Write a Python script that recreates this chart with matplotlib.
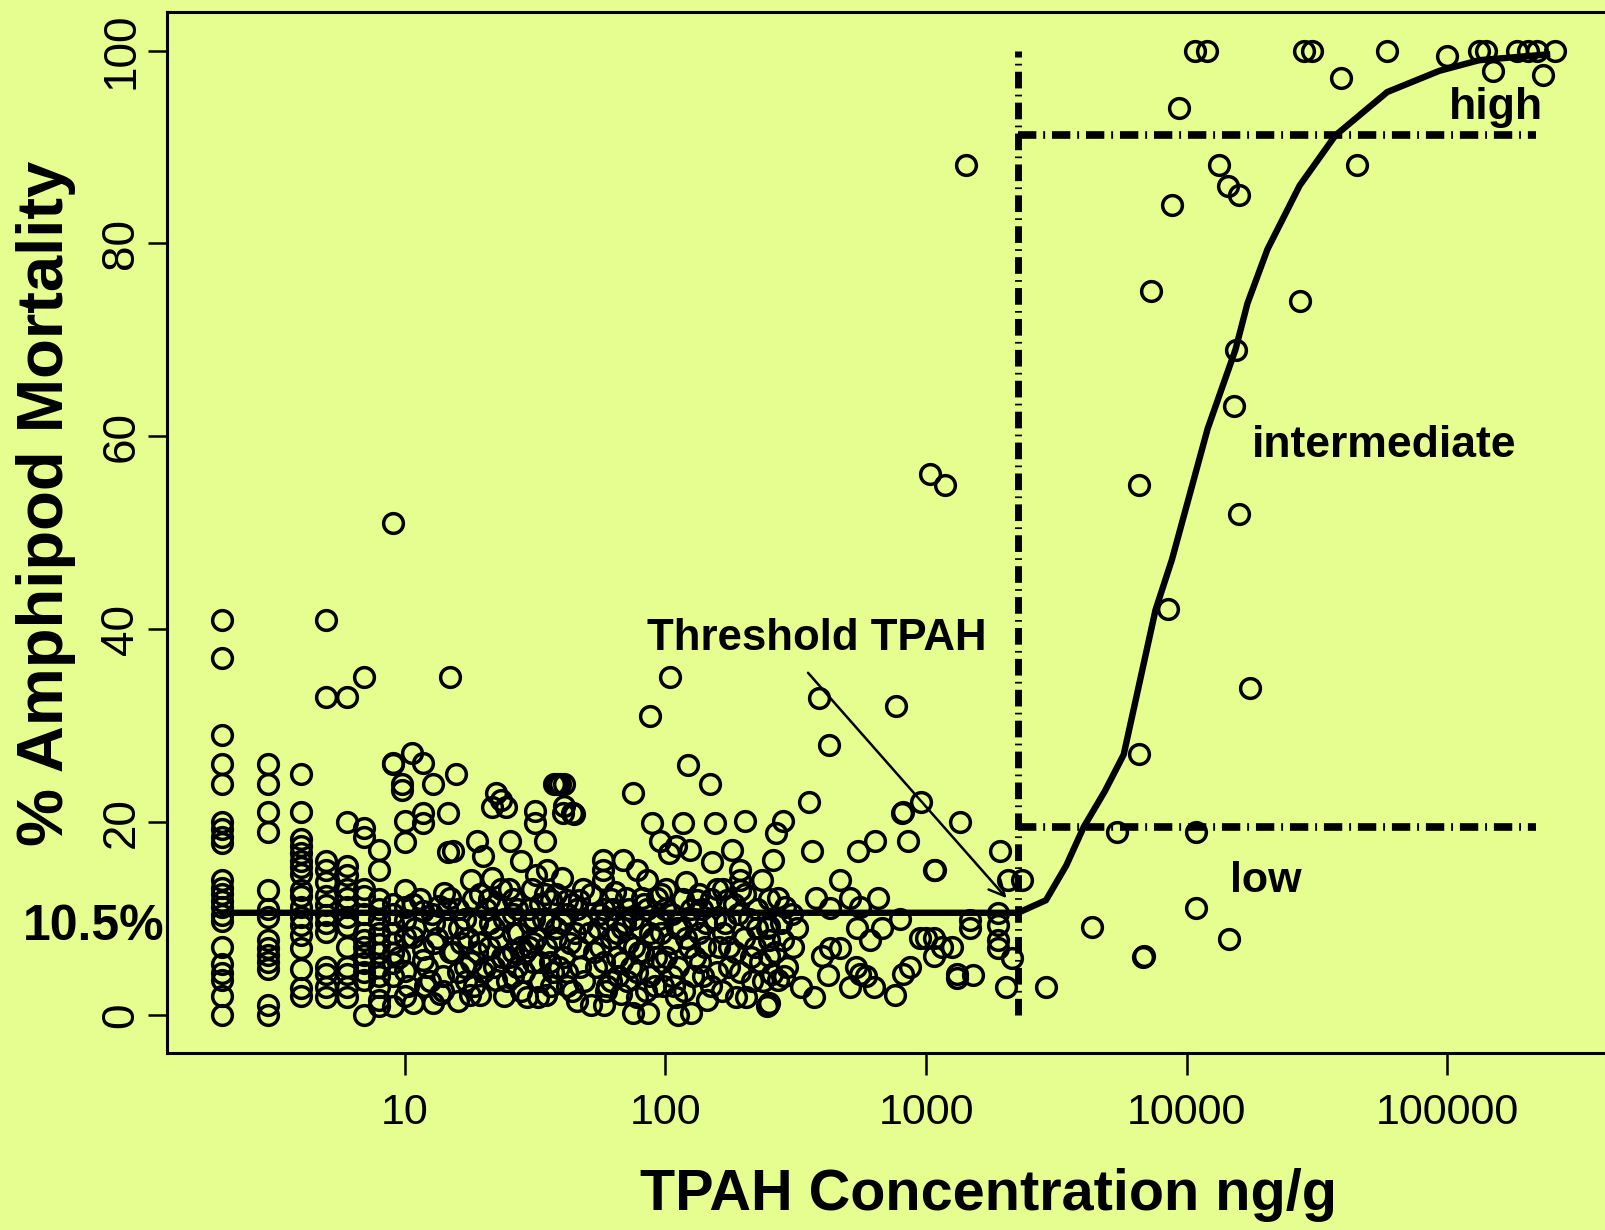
import matplotlib
matplotlib.use("Agg")
import matplotlib.pyplot as plt
import matplotlib.transforms as mtransforms
from matplotlib.ticker import NullLocator

plt.rcParams['font.family'] = ['Liberation Sans', 'DejaVu Sans']

BG = '#e6fd8f'

# ===============================
# DATA
# ===============================
# low concentrations sit on integer values -> one column of mortalities each
int_conc = [2, 3, 4, 5, 6, 7, 8, 9]
int_mort = [
    [41, 37, 29, 26, 24, 20, 19.3, 18.5, 17.8, 14, 13.2, 12.5, 11.8, 11.2, 10.4, 9.7, 7, 5.3, 4.4, 3.6, 2, 0],
    [26, 24, 21, 19, 13, 11, 10.2, 7.8, 6.9, 6.2, 5.5, 4.8, 1, 0],
    [25, 21, 18.3, 17.5, 16.8, 16, 15.3, 14.6, 13, 12.3, 11.2, 10.2, 9.3, 8.3, 6.9, 4.8, 2.8, 2],
    [41, 33, 16, 15, 13.8, 12.3, 11.4, 10.4, 9.5, 8.6, 5, 4.3, 2.9, 1.9],
    [33, 20, 15.4, 14.5, 13.1, 12.1, 11.2, 10.2, 9.2, 7.1, 5, 4.2, 2.9, 1.9],
    [35, 19.4, 18.5, 13.1, 12.3, 10.5, 8.5, 7.8, 7.1, 6.2, 5.4, 4.5, 3.6, 0],
    [17.1, 15, 12, 11, 10, 8.5, 7.4, 6.4, 5, 4, 2.9, 1.6, 0.9],
    [51, 26, 11.5, 10.5, 9.5, 8.5, 7.5, 6.4, 5.4, 4, 0.9],
]

# 9 - 2300 ng/g (below threshold)
mid_conc = [
    9.0, 10.7, 11.8, 9.8, 9.8, 12.8, 15.7, 15.0, 10, 10,
    10, 10, 10, 10, 10, 10, 10.8, 10.8, 10.8, 11.8,
    11.8, 11.8, 11.8, 11.8, 12.5, 12.9, 13, 13, 13.7, 14.2,
    14.7, 14.7, 14.9, 14.5, 15, 15.3, 16, 16.5, 17, 17.5,
    17.8, 18, 18.5, 18.9, 19.5, 19.5, 19, 19, 12, 14,
    16, 16, 13.5, 18, 17,
    20.5, 21, 21.6, 21.6, 22, 22.5, 22, 22.5, 23.4, 23,
    24, 24.6, 23.5, 25.1, 25, 25.4, 26, 26, 27, 28,
    28, 29.5, 30, 30.7, 31.6, 31.6, 31, 32.4, 32, 33,
    34.5, 35.1, 35, 35, 36.6, 37, 38, 37.5, 38.5, 39.5,
    41, 40.1, 40.6, 41.9, 41, 42, 43.8, 44.4, 40.7, 45,
    45.7, 46.8, 46, 47, 48.5, 48, 20, 24, 27, 29,
    33, 36, 39, 43, 44, 21, 26, 30, 34, 38,
    42, 28, 20, 32, 26, 31, 36,
    44.5, 52, 58, 57.8, 57.8, 57.8, 58, 55, 56, 54,
    60, 62, 63.1, 65, 67.6, 69, 70.8, 72.4, 70, 72,
    74, 75.3, 75, 77.6, 77.6, 80, 81.3, 82, 85.1, 85,
    87, 87, 88.7, 86, 90, 93.3, 95.5, 95, 97, 100,
    101, 103, 104, 105, 108, 110, 110, 112, 115, 117,
    120, 122, 124, 126, 126, 130, 132, 135, 138, 140,
    145, 149, 151, 155, 155, 158, 160, 166, 170, 172,
    175, 180, 186, 194, 194, 194, 200, 204, 210, 224,
    230, 234, 245, 245, 248, 203, 52, 60, 66, 68,
    62, 78, 84, 92, 98, 106, 112, 118, 128, 142,
    150, 165, 185, 190, 215, 220, 96, 64, 76, 58,
    120, 135,
    356, 284, 267, 260, 364, 550, 637, 807, 955, 855,
    1084, 468, 271, 288, 380, 427, 511, 558, 656, 794,
    676, 542, 319, 284, 309, 251, 251, 251, 468, 427,
    398, 610, 948, 1000, 1072, 1148, 1259, 1072, 871, 813,
    537, 558, 589, 513, 631, 422, 331, 372, 257, 270,
    285, 251, 759, 1318, 388, 425, 769, 813, 1349, 1476,
    1476, 1312, 1514, 1890, 1890, 1890, 1890, 2140, 2030, 1074,
    1038, 1178, 1422, 1923, 2066, 2340,
]
mid_mort = [
    26.1, 27.2, 26.1, 24.0, 23.3, 24.0, 25.0, 35.0, 20.1, 17.9,
    13.0, 11.2, 9.9, 8.1, 4.6, 2.0, 11.5, 8.1, 1.2, 20.9,
    19.9, 10.8, 6.8, 5.7, 3.5, 1.2, 9.5, 7.5, 2.2, 12.6,
    20.9, 16.9, 12.1, 9.0, 6.5, 17.0, 4.5, 7.5, 10.0, 8.0,
    2.1, 5.5, 3.0, 18.0, 12.5, 2.1, 9.5, 6.5, 3.0, 4.0,
    1.5, 11.0, 11.3, 14.0, 5.0,
    11.0, 7.0, 21.6, 14.2, 9.0, 3.6, 5.0, 23.0, 13.1, 8.0,
    10.0, 21.6, 22.3, 13.1, 6.0, 18.0, 4.0, 8.5, 11.0, 7.0,
    2.5, 1.9, 9.5, 13.1, 19.9, 21.2, 5.5, 1.9, 8.0, 11.5,
    18.0, 15.0, 7.0, 2.1, 11.9, 4.5, 9.0, 24.0, 24.0, 24.0,
    24.0, 14.2, 20.9, 11.9, 6.0, 3.0, 20.9, 20.9, 21.7, 8.5,
    11.0, 11.9, 1.5, 5.0, 13.1, 9.5, 4.5, 2.0, 5.0, 6.5,
    3.5, 9.5, 5.0, 7.5, 2.5, 12.0, 10.5, 11.0, 10.0, 12.5,
    10.5, 16.0, 16.5, 14.5, 6.5, 7.5, 5.5,
    20.8, 1.0, 1.0, 16.1, 15.0, 14.0, 11.0, 9.0, 7.0, 5.0,
    3.0, 8.0, 11.0, 6.0, 2.2, 16.1, 12.1, 11.0, 9.5, 7.5,
    5.0, 0.2, 23.0, 15.0, 1.9, 9.0, 12.1, 6.5, 14.0, 11.0,
    31.0, 4.0, 19.9, 0.2, 8.0, 12.1, 18.0, 10.0, 5.5, 11.0,
    13.1, 16.8, 35.0, 7.5, 3.0, 17.5, 1.9, 0.0, 9.0, 19.9,
    13.8, 25.9, 17.1, 0.2, 11.0, 6.0, 11.9, 8.5, 11.0, 4.0,
    1.6, 24.0, 15.9, 19.9, 10.0, 13.1, 7.0, 13.1, 9.5, 11.9,
    5.0, 17.1, 1.9, 15.0, 14.0, 13.0, 8.0, 1.9, 10.0, 11.0,
    5.5, 14.0, 0.9, 9.0, 1.0, 20.1, 12.5, 10.0, 4.0, 9.0,
    3.5, 4.5, 2.5, 6.0, 3.0, 10.5, 5.0, 2.5, 4.0, 7.0,
    3.0, 2.5, 6.5, 10.5, 3.5, 7.0, 8.5, 12.8, 7.0, 5.5,
    8.0, 12.5,
    22.1, 20.1, 18.9, 16.1, 17.0, 17.0, 18.0, 20.9, 22.1, 18.0,
    15.0, 14.0, 12.1, 11.2, 12.1, 11.1, 12.1, 11.2, 12.1, 10.0,
    9.0, 9.0, 9.0, 7.8, 7.1, 9.2, 7.8, 6.1, 6.9, 6.9,
    6.1, 7.8, 8.0, 8.0, 8.0, 7.1, 7.1, 6.1, 5.0, 4.2,
    5.0, 4.3, 4.0, 2.9, 2.9, 4.1, 2.9, 1.9, 4.3, 3.6,
    4.0, 1.2, 2.1, 3.8, 32.9, 28.0, 32.0, 21.1, 20.0, 9.9,
    9.0, 4.3, 4.1, 10.6, 9.3, 7.8, 6.9, 5.9, 2.9, 15.0,
    56.1, 55.0, 88.1, 17.0, 14.0, 14.0,
]

# the solid-looking band under the fitted line (10 - 300 ng/g)
dense_conc = [
    9.5, 10.3, 11, 11.5, 12.2, 12.7, 13.3, 14, 14.6, 15.4,
    16.2, 17.2, 18.3, 19.3, 20.3, 21.3, 22.5, 23.6, 24.8, 26,
    27.3, 28.7, 30.1, 31.5, 33, 34.7, 36.4, 38.2, 40, 42,
    44, 46.3, 48.6, 51, 53.5, 56, 59, 62, 65, 68,
    71.5, 75, 79, 83, 87, 91, 96, 101, 106, 111,
    117, 123, 129, 136, 143, 150, 158, 166, 175, 184,
    193, 203, 214, 225, 237, 250, 263, 277, 292, 307,
]
dense_mort = [
    6.0, 3.0, 9.0, 12.0, 5.0, 10.5, 8.0, 2.5, 11.0, 6.5,
    9.0, 3.5, 12.0, 7.5, 5.0, 9.5, 11.5, 6.0, 3.5, 12.0,
    8.5, 4.5, 7.0, 10.0, 5.5, 12.5, 3.0, 8.0, 9.5, 4.5,
    11.5, 7.0, 3.5, 8.5, 6.5, 10.5, 2.5, 12.0, 8.5, 5.5,
    3.5, 10.0, 6.5, 11.5, 8.5, 3.0, 12.5, 6.0, 4.0, 9.0,
    12.0, 7.0, 10.0, 5.5, 9.5, 12.0, 4.5, 8.5, 7.0, 11.5,
    4.5, 12.5, 6.0, 9.0, 3.5, 12.0, 6.5, 9.5, 5.0, 10.5,
]

# above threshold
high_conc = [
    2880, 4340, 5380, 6810, 6850, 10890, 10890, 14560, 6560, 6560,
    7290, 8750, 8470, 9330, 10800, 12000, 13300, 14400, 15800, 15400,
    15200, 15900, 17450, 27100, 28100, 30100, 39200, 45100, 58700, 99500,
    132000, 140000, 150000, 185000, 203000, 220000, 259000, 233000,
]
high_mort = [
    2.9, 9.1, 19.0, 6.0, 6.1, 19.0, 11.1, 7.9, 55.0, 27.1,
    75.1, 84.0, 42.1, 94.0, 100, 100, 88.1, 86.0, 85.0, 69.0,
    63.1, 52.0, 33.9, 74.0, 100, 100, 97.2, 88.1, 100, 99.4,
    100, 100, 97.9, 100, 100, 100, 100, 97.5,
]

# fitted threshold / logistic curve
fit_conc = [2, 2255, 2884, 3450, 4027, 4850, 5730, 7590, 8770, 12030,
            15380, 17100, 20400, 27100, 37150, 58750, 93100, 132200, 241000]
fit_mort = [10.6, 10.6, 11.9, 15.5, 19.5, 23.2, 27.0, 42.0, 47.2, 60.8,
            69.0, 73.8, 79.4, 86.0, 91.2, 95.7, 97.9, 99.0, 99.6]

threshold_tpah = 2255
low_cut = 19.5
high_cut = 91.2
cut_end = 219000

# ===============================
# PLOT
# ===============================
fig = plt.figure(figsize=(16.06, 12.30), dpi=100)
fig.patch.set_facecolor(BG)
ax = fig.add_axes([167 / 1606, 1 - 1053 / 1230, 1445 / 1606, 1041 / 1230])
ax.set_facecolor(BG)
ax.set_xscale('log')
ax.set_xlim(1.227, 427600)
ax.set_ylim(-3.94, 104.0)

circ = dict(linestyle='none', marker='o', mfc='none', mec='black', ms=14.2, mew=2.5, zorder=2)
for c, ys in zip(int_conc, int_mort):
    ax.plot([c] * len(ys), ys, **circ)
ax.plot(mid_conc, mid_mort, **circ)
ax.plot(dense_conc, dense_mort, **circ)
ax.plot(high_conc, high_mort, **circ)

ax.plot(fit_conc, fit_mort, color='black', lw=4.6, zorder=3, solid_joinstyle='round')

dashdot = (0, (2.4, 0.9, 0.25, 0.9))
ax.plot([threshold_tpah, threshold_tpah], [0, 100], color='black', lw=5,
        linestyle=dashdot, dash_capstyle='butt', zorder=3)
for yc in (low_cut, high_cut):
    ax.plot([threshold_tpah, cut_end], [yc, yc], color='black', lw=5.5,
            linestyle=dashdot, dash_capstyle='butt', zorder=3)

ax.annotate('', xy=(2070, 11.9), xytext=(347, 35.7),
            arrowprops=dict(arrowstyle='->', lw=1.8, color='black', mutation_scale=28))

ax.text(85.3, 37.8, 'Threshold TPAH', fontsize=31.5, fontweight='bold', va='baseline')
ax.text(17740, 57.9, 'intermediate', fontsize=32, fontweight='bold', va='baseline')
ax.text(101400, 92.9, 'high', fontsize=32, fontweight='bold', va='baseline')
ax.text(14590, 12.8, 'low', fontsize=31, fontweight='bold', va='baseline')

trans = mtransforms.blended_transform_factory(ax.transAxes, ax.transData)
ax.text(-0.0014, 7.8, '10.5%', transform=trans, fontsize=36, fontweight='bold',
        ha='right', va='baseline', clip_on=False)

# axes / ticks in base-R style
for s in ax.spines.values():
    s.set_linewidth(2.2)
ax.set_xticks([10, 100, 1000, 10000, 100000])
ax.set_xticklabels(['10', '100', '1000', '10000', '100000'])
ax.xaxis.set_minor_locator(NullLocator())
ax.tick_params(axis='x', length=16, width=1.8, pad=13, labelsize=31)
ax.set_yticks([0, 20, 40, 60, 80, 100])
ax.tick_params(axis='y', length=14, width=1.8, pad=3, labelsize=33, labelrotation=90)
for lbl in ax.get_yticklabels():
    lbl.set_va('center')

fig.text(989 / 1606, 1 - 1210 / 1230, 'TPAH Concentration ng/g', fontsize=41.5,
         fontweight='bold', ha='center', va='baseline')
fig.text(46 / 1606, 1 - 503 / 1230, '% Amphipod Mortality', fontsize=47,
         fontweight='bold', rotation=90, ha='center', va='center')

fig.savefig('out.png', dpi=100, facecolor=BG)
